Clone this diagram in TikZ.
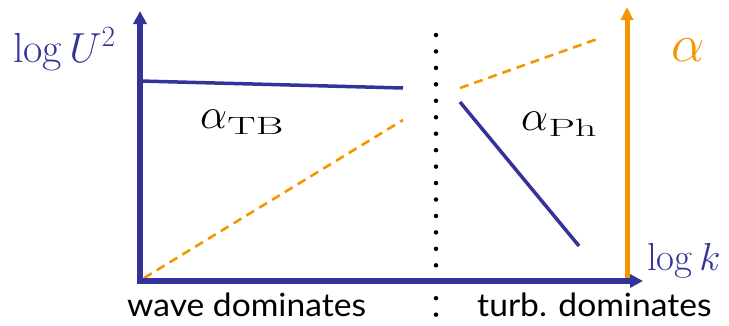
\RequirePackage{fix-cm}
\documentclass[tikz,border=0pt]{standalone}
\usepackage{fontspec}
\usetikzlibrary{arrows.meta}
\newfontfamily\labelfont{Lato}
\definecolor{axblue}{RGB}{51,51,153}
\definecolor{axorange}{RGB}{245,150,0}
\newcommand{\subtxt}[1]{\raisebox{-6pt}{\scalebox{1.7}[1]{\fontsize{25}{25}\selectfont #1}}}
\begin{document}
\begin{tikzpicture}[x=1pt,y=-1pt,
  bluetip/.style={-{Triangle[length=13pt,width=13pt]}},
  blueaxis/.style={draw=axblue,line width=6pt},
  orangeaxis/.style={draw=axorange,line width=5pt},
  blueline/.style={draw=axblue,line width=3.5pt},
  orangedash/.style={draw=axorange,line width=2.6pt,dash pattern=on 9pt off 6pt},
  dotmark/.style={fill=black,circle,inner sep=0pt,minimum size=4.5pt},
  mathlabel/.style={inner sep=0pt,anchor=base west},
  bottomlabel/.style={inner sep=0pt,anchor=base west,font=\labelfont\fontsize{32}{32}\selectfont}]
\useasboundingbox (0,0) rectangle (729,325);
% dotted separator
\foreach \k in {0,...,17} {
  \node[dotmark] (d\k) at (436,{35+16.45*\k}) {};
}
% coordinates
\coordinate (o) at (140,281);
\coordinate (ytop) at (140,11);
\coordinate (xl) at (137,281);
\coordinate (xend) at (643,281);
\coordinate (ob) at (627,281);
\coordinate (otop) at (627,7);
\coordinate (tbA) at (140,81);
\coordinate (tbB) at (403,88);
\coordinate (odA) at (144,278);
\coordinate (odB) at (403,120);
\coordinate (orA) at (460,88);
\coordinate (orB) at (600,38);
\coordinate (phA) at (460,102);
\coordinate (phB) at (579,246);
% curves
\draw[blueline] (tbA) -- (tbB);
\draw[orangedash] (odA) -- (odB);
\draw[orangedash] (orA) -- (orB);
\draw[blueline] (phA) -- (phB);
% axes
\draw[orangeaxis,-{Triangle[length=13pt,width=12pt]},color=axorange] (ob) -- (otop);
\draw[blueaxis,bluetip,color=axblue] (o) -- (ytop);
\draw[blueaxis,bluetip,color=axblue] (xl) -- (xend);
% labels
\node[mathlabel,text=axblue,font=\fontsize{42}{42}\selectfont] (ylab) at (13,62) {$\log U^2$};
\node[mathlabel,text=axblue,font=\fontsize{39}{39}\selectfont] (xlab) at (647,270) {$\log k$};
\node[mathlabel,text=axorange,font=\fontsize{53}{53}\selectfont] (alab) at (671,61) {$\alpha$};
\node[mathlabel,font=\fontsize{43}{43}\selectfont] (tb) at (200,128) {$\alpha$\subtxt{TB}};
\node[mathlabel,font=\fontsize{43}{43}\selectfont] (ph) at (521,130) {$\alpha$\subtxt{Ph}};
\node[bottomlabel] (wave) at (127,316) {\scalebox{1.05}[1]{wave dominates}};
\node[bottomlabel] (turb) at (477,316) {\scalebox{1.05}[1]{turb. dominates}};
\end{tikzpicture}
\end{document}
